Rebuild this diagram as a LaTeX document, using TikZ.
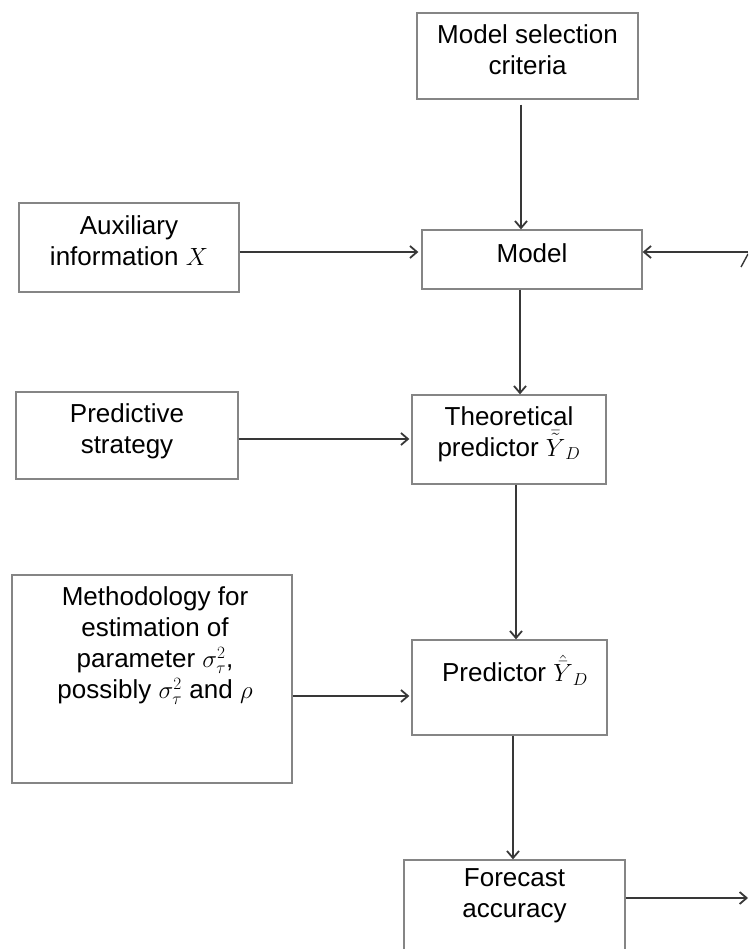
\documentclass[tikz,border=0pt]{standalone}
\usepackage{fontspec}
\setmainfont{Liberation Sans}
\usetikzlibrary{arrows.meta,calc}
\definecolor{boxgray}{HTML}{858585}
\definecolor{linegray}{HTML}{383838}
\begin{document}
\begin{tikzpicture}[x=1pt,y=-1pt,
  box/.style={draw=boxgray, line width=1.3pt, inner sep=0pt},
  lbl/.style={anchor=north, align=center, inner sep=0pt, font=\fontsize{26}{31}\selectfont, text=black},
  arr/.style={draw=linegray, line width=1.2pt, -{Straight Barb[length=7pt,width=12pt,line width=1.8pt]}}]
\useasboundingbox (0,0) rectangle (748,949);
\clip (0,0) rectangle (748,949);
% boxes
\node[box, minimum width=221pt, minimum height=86pt] (ms) at (527.5,56) {};
\node[box, minimum width=220pt, minimum height=89pt] (aux) at (129,247.5) {};
\node[box, minimum width=220pt, minimum height=59pt] (model) at (532,259.5) {};
\node[box, minimum width=222pt, minimum height=87pt] (ps) at (127,435.5) {};
\node[box, minimum width=194pt, minimum height=89pt] (theo) at (509,439.5) {};
\node[box, minimum width=280pt, minimum height=208pt] (meth) at (152,679) {};
\node[box, minimum width=195pt, minimum height=95pt] (pred) at (509.5,687.5) {};
\node[box, minimum width=221pt, minimum height=110pt] (fc) at (514.5,915) {};
% labels
\node[lbl] (msl) at (527.5,24) {Model selection\\criteria};
\node[lbl] (auxl) at (129,215) {Auxiliary\\information $X$};
\node[lbl] (modell) at (532,243) {Model};
\node[lbl] (psl) at (127,403) {Predictive\\strategy};
\node[lbl] (theol) at (509,406) {Theoretical\\predictor $\bar{\tilde{Y}}_D$};
\node[lbl] (methl) at (155,586) {Methodology for\\estimation of\\parameter $\sigma_\tau^2$,\\possibly $\sigma_\tau^2$ and $\rho$};
\node[lbl] (predl) at (515,655) {Predictor $\hat{\bar{Y}}_D$};
\node[lbl] (fcl) at (514.5,868) {Forecast\\accuracy};
% outside coordinates
\coordinate (rin) at (748,252);
\coordinate (rout) at (748,898);
% connectors
\draw[arr] ([xshift=-6.5pt,yshift=-5pt]ms.south) coordinate (a0) -- (a0 |- model.north);
\draw[arr] ([yshift=-4.5pt]aux.east) coordinate (a1) -- ([xshift=-3pt]a1 -| model.west);
\draw[arr] (rin) -- (rin -| model.east);
\draw[arr] ([xshift=-12pt]model.south) coordinate (a2) -- (a2 |- theo.north);
\draw[arr] ([yshift=-3.5pt]ps.east) coordinate (a3) -- ([xshift=-2pt]a3 -| theo.west);
\draw[arr] ([xshift=7pt]theo.south) coordinate (a4) -- (a4 |- pred.north);
\draw[arr] ([yshift=-17pt]meth.east) coordinate (a5) -- ([xshift=-2pt]a5 -| pred.west);
\draw[arr] ([xshift=3.5pt]pred.south) coordinate (a6) -- (a6 |- fc.north);
\draw[arr] (fc.east |- rout) -- (rout);
\draw[draw=linegray, line width=1.4pt] (741,267) -- (748,254);
\end{tikzpicture}
\end{document}
